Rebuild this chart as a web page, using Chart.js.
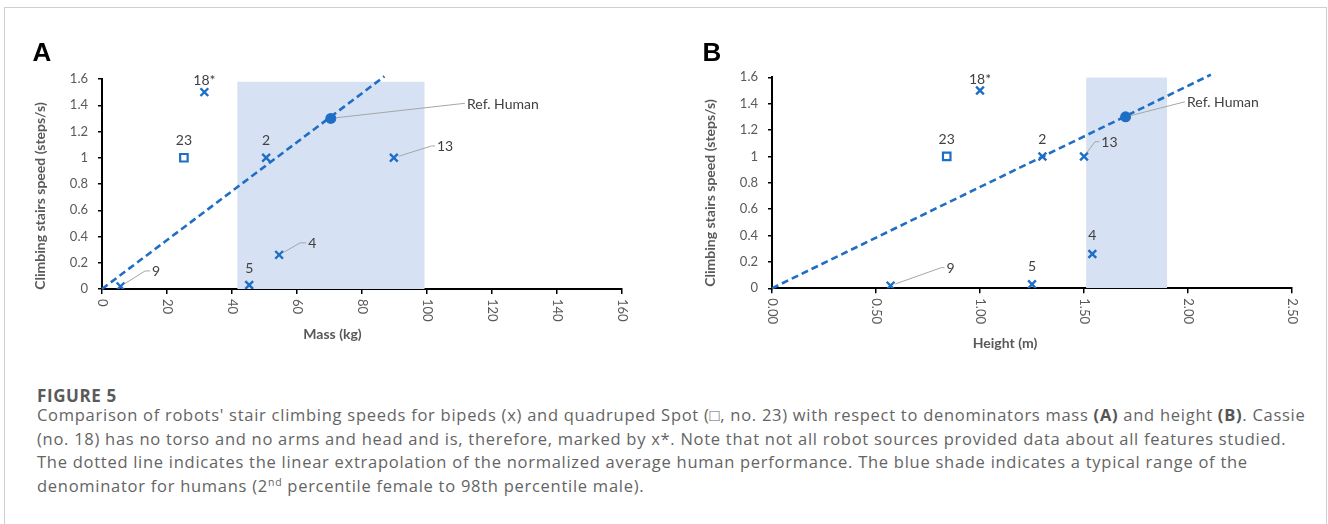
<!DOCTYPE html>
<html>
<head>
<meta charset="utf-8">
<script src="https://cdn.jsdelivr.net/npm/chart.js@4.4.0/dist/chart.umd.min.js"></script>
<style>
  body { margin: 0; background: #fff; width: 1328px; height: 524px; overflow: hidden; position: relative; }
  #frame { position: absolute; left: 4px; top: 7px; width: 1321px; height: 560px; border: 1px solid #cfcfcf; }
  .panel { position: absolute; top: 0; }
  #caption { position: absolute; left: 37px; top: 0; font-family: "Open Sans", sans-serif; color: #646464; }
  #caption div { position: absolute; left: 0; white-space: nowrap; font-size: 16.5px; line-height: 23.5px; }
  #caption .fig { font-weight: bold; color: #5a5a5a; font-size: 17px; letter-spacing: 0.6px; }
  #caption b { color: #555; }
  #caption sup { font-size: 10.5px; line-height: 0; vertical-align: 6px; }
</style>
</head>
<body>
<div id="frame"></div>
<canvas id="chartA" class="panel" width="650" height="360" style="left:0px"></canvas>
<canvas id="chartB" class="panel" width="650" height="360" style="left:670px"></canvas>
<div id="caption">
  <div class="fig" style="top:384px">FIGURE 5</div>
  <div class="ln" style="top:403px">Comparison of robots' stair climbing speeds for bipeds (x) and quadruped Spot (□, no. 23) with respect to denominators mass <b>(A)</b> and height <b>(B)</b>. Cassie</div>
  <div class="ln" style="top:426.5px">(no. 18) has no torso and no arms and head and is, therefore, marked by x*. Note that not all robot sources provided data about all features studied.</div>
  <div class="ln" style="top:450px">The dotted line indicates the linear extrapolation of the normalized average human performance. The blue shade indicates a typical range of the</div>
  <div class="ln" style="top:473.5px">denominator for humans (2<sup>nd</sup> percentile female to 98th percentile male).</div>
</div>
<script>
// robots (bipeds), same speed in both panels
var robotIds = ["2", "4", "5", "9", "13", "18*"];
var robotSpeed = [1, 0.26, 0.03, 0.02, 1, 1.5];
var robotMass = [50.5, 54.5, 45.3, 5.7, 89.8, 31.5];
var robotHeight = [1.30, 1.54, 1.25, 0.57, 1.50, 1.00];

// quadruped Spot (no. 23)
var spotId = "23";
var spotSpeed = [1];
var spotMass = [25.2];
var spotHeight = [0.84];

// reference human
var humanLabel = "Ref. Human";
var humanSpeed = [1.3];
var humanMass = [70.4];
var humanHeight = [1.70];

// typical human range (shade) and extrapolation line end
var rangeMass = [41.6, 99.3];
var rangeHeight = [1.51, 1.90];
var rangeTopMass = 1.58;
var rangeTopHeight = 1.6;
var trendMass = [0, 86.9];
var trendHeight = [0, 2.11];
var trendSpeed = [0, 1.62];

// axes
var speedTicks = [0, 1.6, 0.2];
var massTicks = [0, 160, 20];
var heightTicks = [0, 2.5, 0.5];

var BLUE = '#1F6EC5';
var SHADE = '#D6E2F3';
var TICK = '#595959';

// stretch caption text to the width of the original typeface
(function () {
    var lines = document.querySelectorAll('#caption .ln');
    var ref = lines[1];
    var ls = (1249 - ref.getBoundingClientRect().width) / ref.textContent.length;
    lines.forEach(function (d) { d.style.letterSpacing = ls.toFixed(2) + 'px'; });
})();

function pts(xs, ys) {
    return xs.map(function (x, i) { return { x: x, y: ys[i] }; });
}

// label placement: dy = label above marker, lead = leader elbow [dx, dy, horizontal length]
var placeA = {
    "2": { dy: -17 }, "5": { dy: -17 }, "18*": { dy: -12 }, "23": { dy: -17 },
    "9": { lead: [24.5, -15.4, 5] }, "4": { lead: [21, -12, 6] },
    "13": { lead: [37.8, -11.8, 3.3] }, "Ref. Human": { lead: [134.2, -15.1, 0] }
};
var placeB = {
    "2": { dy: -17 }, "5": { dy: -17.6 }, "18*": { dy: -11.5 }, "23": { dy: -17 }, "4": { dy: -18.3 },
    "9": { lead: [50.7, -18, 3.3] },
    "13": { lead: [11, -14.7, 4.3] }, "Ref. Human": { lead: [59.4, -15.1, 0] }
};

function annotations(cfg) {
    return {
        id: 'annot',
        afterDraw: function (chart) {
            var ctx = chart.ctx, xs = chart.scales.x, ys = chart.scales.y;
            ctx.save();
            // panel letter
            ctx.fillStyle = '#000';
            ctx.font = 'bold 26px "Liberation Sans", Arial, sans-serif';
            ctx.textAlign = 'left';
            ctx.textBaseline = 'alphabetic';
            ctx.fillText(cfg.letter, 32.5, 60.7);

            // x tick labels, rotated clockwise
            ctx.fillStyle = TICK;
            ctx.font = '13px Lato, sans-serif';
            xs.ticks.forEach(function (t) {
                ctx.save();
                ctx.translate(xs.getPixelForValue(t.value), xs.top + 10);
                ctx.rotate(Math.PI / 2);
                ctx.textAlign = 'left';
                ctx.textBaseline = 'middle';
                ctx.fillText(cfg.fmt(t.value), 0, 0);
                ctx.restore();
            });

            // axis titles
            ctx.font = 'bold 14px Lato, sans-serif';
            ctx.textAlign = 'center';
            ctx.textBaseline = 'middle';
            ctx.fillText(cfg.xTitle, cfg.xTitlePos[0], cfg.xTitlePos[1]);
            ctx.save();
            ctx.translate(cfg.yTitlePos[0], cfg.yTitlePos[1]);
            ctx.rotate(-Math.PI / 2);
            ctx.fillText('Climbing stairs speed (steps/s)', 0, 0);
            ctx.restore();

            // point labels
            ctx.font = '14px Lato, sans-serif';
            ctx.fillStyle = '#404040';
            ctx.strokeStyle = '#A6A6A6';
            ctx.lineWidth = 1;
            cfg.labels.forEach(function (l) {
                var px = xs.getPixelForValue(l.x), py = ys.getPixelForValue(l.y);
                var p = cfg.place[l.text];
                if (p.lead) {
                    var ex = px + p.lead[0], ey = py + p.lead[1];
                    var len = Math.sqrt(p.lead[0] * p.lead[0] + p.lead[1] * p.lead[1]);
                    ctx.beginPath();
                    ctx.moveTo(px + p.lead[0] / len * 5, py + p.lead[1] / len * 5);
                    ctx.lineTo(ex, ey);
                    ctx.lineTo(ex + p.lead[2], ey);
                    ctx.stroke();
                    ctx.textAlign = 'left';
                    ctx.fillText(l.text, ex + p.lead[2] + 2, ey + 1);
                } else {
                    ctx.textAlign = 'center';
                    ctx.fillText(l.text, px, py + p.dy);
                }
            });
            ctx.restore();
        }
    };
}

function makeChart(id, cfg) {
    var labels = robotIds.map(function (r, i) { return { text: r, x: cfg.robotX[i], y: robotSpeed[i] }; });
    labels.push({ text: spotId, x: cfg.spotX[0], y: spotSpeed[0] });
    labels.push({ text: humanLabel, x: cfg.humanX[0], y: humanSpeed[0] });
    cfg.labels = labels;

    return new Chart(document.getElementById(id), {
        type: 'scatter',
        data: {
            datasets: [{
                data: pts([cfg.range[0], cfg.range[0], cfg.range[1], cfg.range[1]], [0, cfg.rangeTop, cfg.rangeTop, 0]),
                showLine: true, fill: 'origin', backgroundColor: SHADE, borderColor: 'rgba(0,0,0,0)',
                borderWidth: 0, pointRadius: 0, tension: 0, order: 4
            }, {
                data: pts(cfg.trendX, trendSpeed),
                showLine: true, borderColor: BLUE, borderWidth: 2.6, borderDash: [7, 4],
                pointRadius: 0, clip: false, order: 3
            }, {
                data: pts(cfg.robotX, robotSpeed),
                pointStyle: 'crossRot', radius: 5.5, borderWidth: 2.4, borderColor: BLUE, order: 2
            }, {
                data: pts(cfg.spotX, spotSpeed),
                pointStyle: 'rect', radius: 5.3, borderWidth: 2.2, borderColor: BLUE,
                backgroundColor: '#fff', order: 1
            }, {
                data: pts(cfg.humanX, humanSpeed),
                pointStyle: 'circle', radius: 5.5, borderWidth: 0, backgroundColor: BLUE, order: 0
            }]
        },
        options: {
            responsive: false,
            animation: false,
            layout: { padding: { left: 0, top: cfg.top, right: 28, bottom: 0 } },
            plugins: { legend: { display: false }, tooltip: { enabled: false } },
            scales: {
                x: {
                    type: 'linear', min: cfg.xTicks[0], max: cfg.xTicks[1],
                    ticks: { stepSize: cfg.xTicks[2], display: false },
                    border: { display: true, color: '#000', width: 2 },
                    grid: { drawOnChartArea: false, color: '#000', lineWidth: 1.5, tickLength: 5 },
                    afterFit: function (s) { s.height = 360 - cfg.bottom; }
                },
                y: {
                    min: speedTicks[0], max: speedTicks[1],
                    ticks: {
                        stepSize: speedTicks[2], color: TICK, padding: 10, font: { family: 'Lato', size: 13 },
                        callback: function (v) { return String(Math.round(v * 10) / 10); }
                    },
                    border: { display: true, color: '#000', width: 2 },
                    grid: { drawOnChartArea: false, color: '#000', lineWidth: 1.5, tickLength: 4 },
                    afterFit: function (s) { s.width = 102; }
                }
            }
        },
        plugins: [annotations(cfg)]
    });
}

makeChart('chartA', {
    letter: 'A', top: 79, bottom: 289,
    robotX: robotMass, spotX: spotMass, humanX: humanMass,
    range: rangeMass, rangeTop: rangeTopMass, trendX: trendMass,
    xTicks: massTicks, fmt: function (v) { return String(v); },
    xTitle: 'Mass (kg)', xTitlePos: [332.5, 334.3], yTitlePos: [40, 196],
    place: placeA
});

makeChart('chartB', {
    letter: 'B', top: 77.3, bottom: 288.3,
    robotX: robotHeight, spotX: spotHeight, humanX: humanHeight,
    range: rangeHeight, rangeTop: rangeTopHeight, trendX: trendHeight,
    xTicks: heightTicks, fmt: function (v) { return v.toFixed(2); },
    xTitle: 'Height (m)', xTitlePos: [335, 343.8], yTitlePos: [40, 193],
    place: placeB
});
</script>
</body>
</html>
